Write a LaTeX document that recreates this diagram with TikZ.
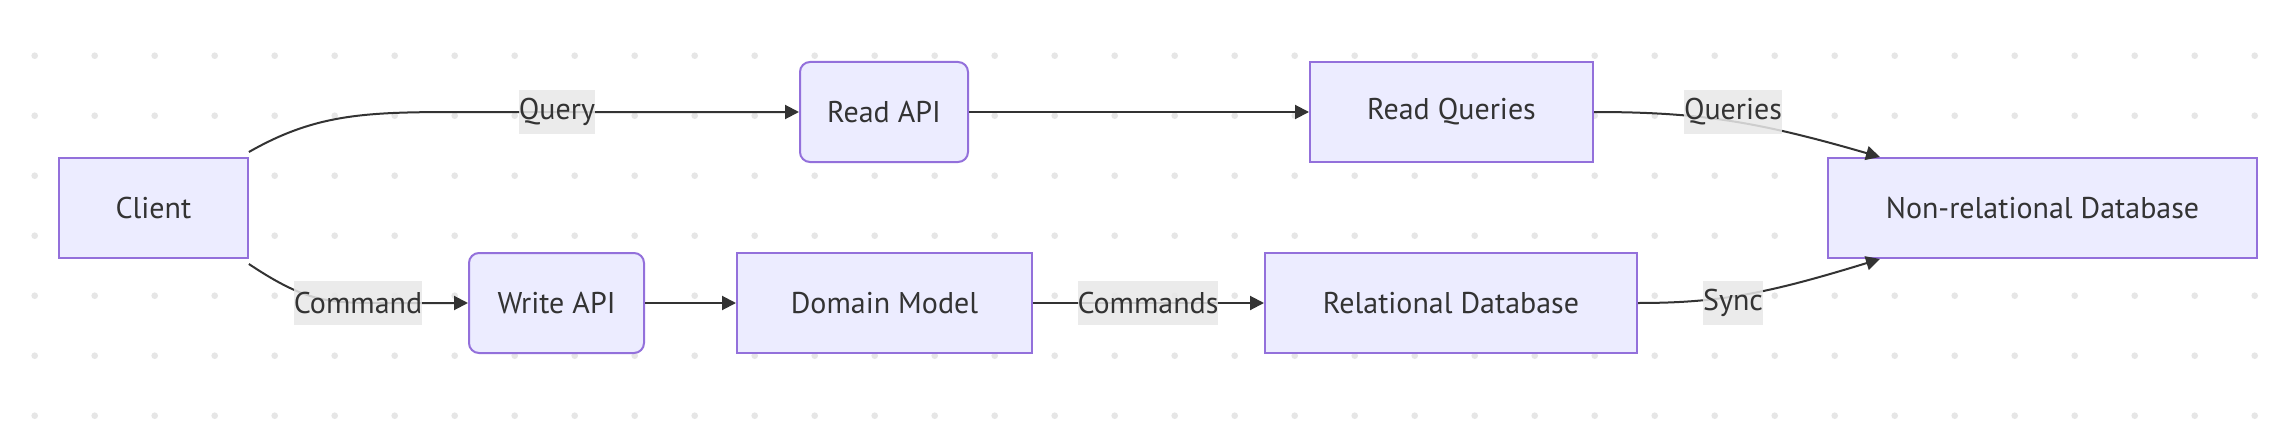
\documentclass[tikz,border=0pt]{standalone}
\usepackage{fontspec}
\setmainfont{PT Sans}
\usetikzlibrary{arrows.meta}
\definecolor{nodefill}{HTML}{ECECFF}
\definecolor{nodeline}{HTML}{9370DB}
\definecolor{edgec}{HTML}{333333}
\definecolor{labelbg}{HTML}{E8E8E8}
\definecolor{dotc}{HTML}{E6E6E6}
\tikzset{
  box/.style={draw=nodeline, fill=nodefill, line width=2pt, text=edgec, inner sep=0pt,
    minimum height=100pt, font=\fontsize{30}{36}\selectfont},
  rbox/.style={box, rounded corners=10pt},
  conn/.style={draw=edgec, line width=2pt, -{Triangle[length=14pt,width=14pt]}},
  elabel/.style={fill=labelbg, fill opacity=0.85, text opacity=1, text=edgec, inner xsep=0pt,
    inner ysep=0pt, minimum height=44pt, font=\fontsize{30}{36}\selectfont},
}
\begin{document}
\begin{tikzpicture}[x=1pt,y=-1pt]
\useasboundingbox (0,0) rectangle (2286,428);
\fill[white] (0,0) rectangle (2286,428);
\foreach \i in {0,...,37}{
  \foreach \j in {0,...,6}{
    \fill[dotc] (34.7+60*\i, 55.7+60*\j) circle (3.3pt);
  }
}
\node[box, minimum width=189pt] (client) at (153.4,208) {Client};
\node[rbox, minimum width=168pt] (readapi) at (884,112) {Read API};
\node[box, minimum width=283pt] (readq) at (1451.5,112) {Read Queries};
\node[rbox, minimum width=175pt] (writeapi) at (556.5,303) {Write API};
\node[box, minimum width=295pt] (domain) at (884.5,303) {Domain Model};
\node[box, minimum width=372pt] (reldb) at (1451,303) {Relational Database};
\node[box, minimum width=429pt] (nonrel) at (2042.5,208) {Non-relational Database};

\draw[conn] ([yshift=5pt]client.north east) .. controls +(70,-40) and +(-100,0) .. (470,112) -- (readapi.west);
\draw[conn] ([yshift=-5pt]client.south east) .. controls +(60,40) and +(-60,0) .. (390,303) -- (writeapi.west);
\draw[conn] (writeapi.east) -- (domain.west);
\draw[conn] (domain.east) -- (reldb.west);
\draw[conn] (readapi.east) -- (readq.west);
\draw[conn] (readq.east) .. controls +(107,0) and +(-121,-35) .. ([xshift=53pt]nonrel.north west);
\draw[conn] (reldb.east) .. controls +(83,0) and +(-111,34) .. ([xshift=53pt]nonrel.south west);

\node[elabel] (lquery) at (557,112) {Query};
\node[elabel] (lcommand) at (358,303) {Command};
\node[elabel] (lcommands) at (1148,303) {Commands};
\node[elabel] (lqueries) at (1733,112) {Queries};
\node[elabel] (lsync) at (1733,303) {Sync};
\end{tikzpicture}
\end{document}
